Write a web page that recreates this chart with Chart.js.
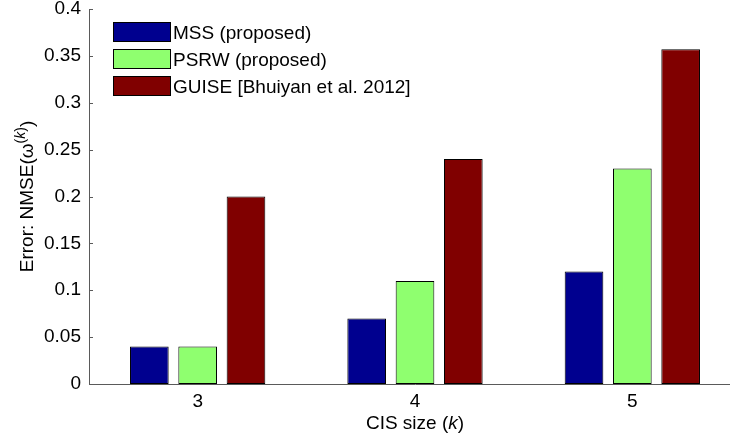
<!DOCTYPE html>
<html lang="en">
<head>
<meta charset="UTF-8">
<title>NMSE by CIS size</title>
<script src="https://cdn.jsdelivr.net/npm/chart.js"></script>
<style>
  html, body { margin: 0; padding: 0; background: #fff; overflow: hidden; }
  canvas { display: block; }
</style>
</head>
<body>
<canvas id="errChart" width="741" height="443"></canvas>
<script>
// values
const cisSizes = ['3', '4', '5'];
const mss = [0.04, 0.07, 0.12];
const psrw = [0.04, 0.11, 0.23];
const guise = [0.20, 0.24, 0.357];
const yTicks = [0, 0.05, 0.1, 0.15, 0.2, 0.25, 0.3, 0.35, 0.4];
const seriesNames = ['MSS (proposed)', 'PSRW (proposed)', 'GUISE [Bhuiyan et al. 2012]'];

const FONT = "'Liberation Sans', Arial, Helvetica, sans-serif";
const AXIS_GRAY = '#5a5a5a';

// draw a line of text made of pieces (for italic k / superscript), centred on cx
function drawRich(ctx, parts, cx, baseY) {
    let total = 0;
    parts.forEach(p => { ctx.font = p.font; total += ctx.measureText(p.t).width; });
    let x = cx - total / 2;
    parts.forEach(p => {
        ctx.font = p.font;
        ctx.fillText(p.t, x, baseY + (p.dy || 0));
        x += ctx.measureText(p.t).width;
    });
}

const extras = {
    id: 'extras',
    afterDraw(chart) {
        const ctx = chart.ctx;
        const area = chart.chartArea;
        const y = chart.scales.y;
        ctx.save();

        // MATLAB style ticks pointing into the axes
        ctx.strokeStyle = AXIS_GRAY;
        ctx.lineWidth = 1;
        yTicks.forEach(v => {
            const py = Math.round(y.getPixelForValue(v)) + 0.5;
            ctx.beginPath();
            ctx.moveTo(area.left, py);
            ctx.lineTo(area.left + 4, py);
            ctx.stroke();
        });

        // legend in the upper left corner
        const lx = area.left + 24, ly = area.top + 13;
        chart.data.datasets.forEach((ds, i) => {
            const top = ly + i * 27;
            ctx.fillStyle = '#000';
            ctx.fillRect(lx, top, 58, 20);
            ctx.fillStyle = ds.backgroundColor;
            ctx.fillRect(lx + 1, top + 1, 56, 18);
            ctx.fillStyle = '#000';
            ctx.font = '19px ' + FONT;
            ctx.textBaseline = 'alphabetic';
            ctx.textAlign = 'left';
            ctx.fillText(ds.label, lx + 60, top + 17);
        });

        // x title
        ctx.fillStyle = '#000';
        const reg = '19px ' + FONT, ital = 'italic 19px ' + FONT;
        drawRich(ctx, [
            {t: 'CIS size (', font: reg},
            {t: 'k', font: ital},
            {t: ')', font: reg}
        ], (area.left + area.right) / 2, 429);

        // y title, rotated
        ctx.translate(33, (area.top + area.bottom) / 2);
        ctx.rotate(-Math.PI / 2);
        const sup = '14px ' + FONT, supI = 'italic 14px ' + FONT;
        drawRich(ctx, [
            {t: 'Error: NMSE(\u03c9', font: reg},
            {t: '(', font: sup, dy: -8},
            {t: 'k', font: supI, dy: -8},
            {t: ')', font: sup, dy: -8},
            {t: ')', font: reg}
        ], 0, 0);
        ctx.restore();
    }
};

const barDefaults = {
    borderColor: '#000',
    borderWidth: 1,
    borderSkipped: false,
    categoryPercentage: 0.667,
    barPercentage: 0.8
};

new Chart(document.getElementById('errChart'), {
    type: 'bar',
    data: {
        labels: cisSizes,
        datasets: [
            Object.assign({label: seriesNames[0], data: mss, backgroundColor: '#00008f'}, barDefaults),
            Object.assign({label: seriesNames[1], data: psrw, backgroundColor: '#8fff6f'}, barDefaults),
            Object.assign({label: seriesNames[2], data: guise, backgroundColor: '#800000'}, barDefaults)
        ]
    },
    options: {
        responsive: false,
        animation: false,
        layout: {padding: {top: 9, right: 0, bottom: 0, left: 0}},
        plugins: {legend: {display: false}, tooltip: {enabled: false}},
        scales: {
            x: {
                grid: {display: false, drawTicks: false, tickLength: 0},
                border: {display: true, color: AXIS_GRAY, width: 1},
                ticks: {color: '#000', padding: 6, font: {family: FONT, size: 19}},
                afterFit(s) { s.height = 59; }
            },
            y: {
                min: 0,
                max: 0.4,
                grid: {display: false, drawTicks: false, tickLength: 0},
                border: {display: true, color: AXIS_GRAY, width: 1},
                afterBuildTicks(s) { s.ticks = yTicks.map(v => ({value: v})); },
                ticks: {
                    color: '#000',
                    padding: 8,
                    font: {family: FONT, size: 19},
                    callback: v => String(+v.toFixed(2))
                },
                afterFit(s) { s.width = 89; s.paddingTop = 0; s.paddingBottom = 0; }
            }
        }
    },
    plugins: [extras]
});
</script>
</body>
</html>
